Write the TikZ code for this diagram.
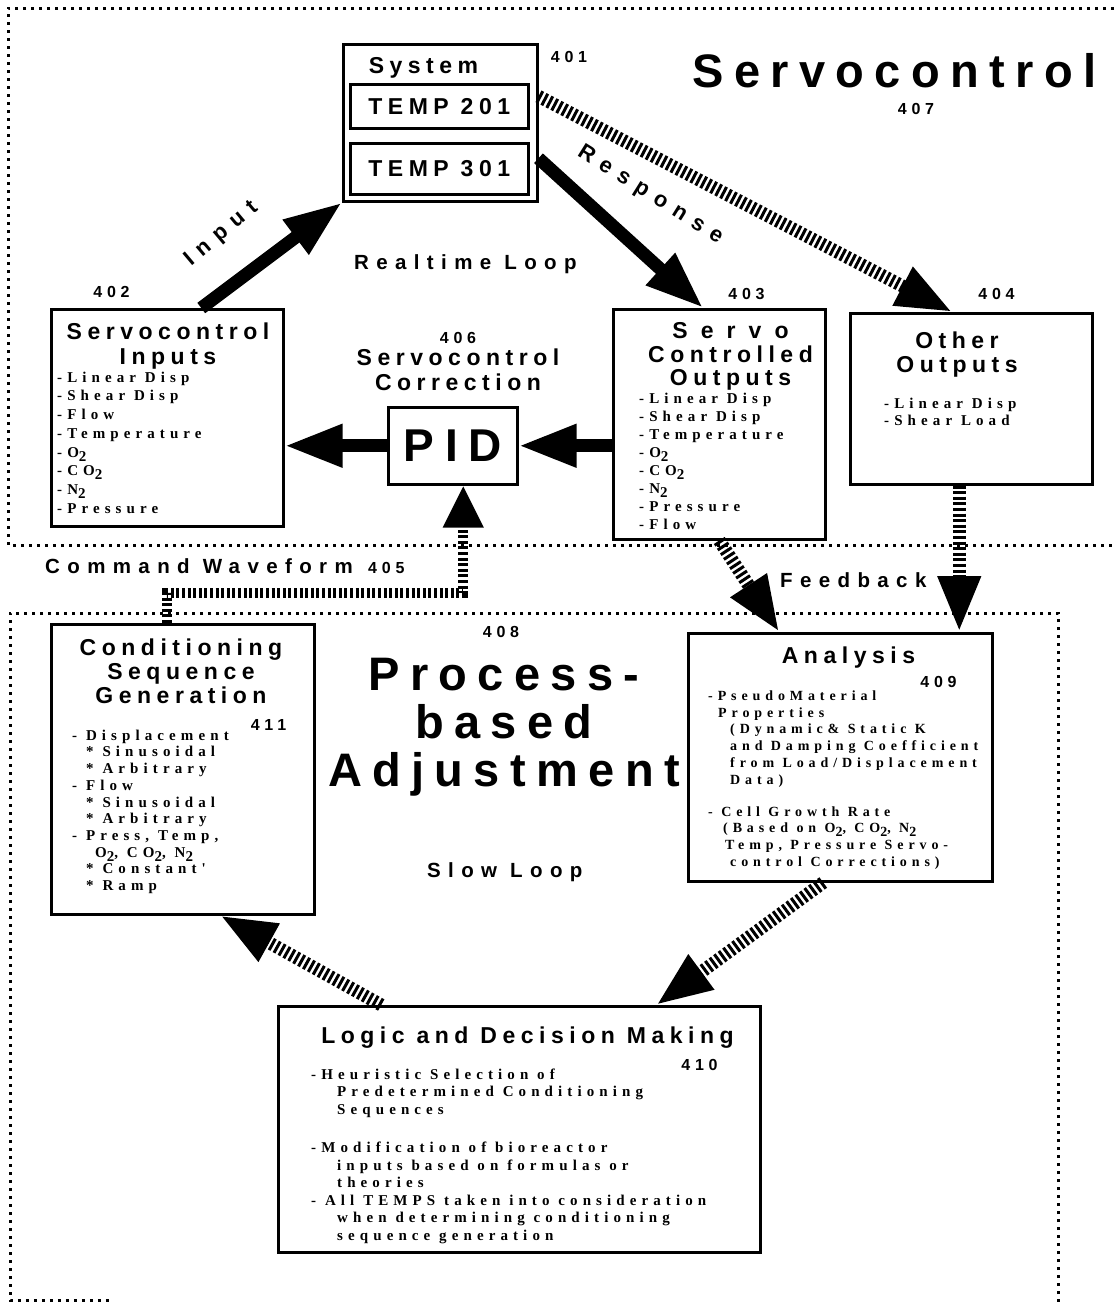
\documentclass[tikz,border=0pt]{standalone}
\usepackage{fontspec}
\usetikzlibrary{arrows.meta}
\newfontfamily\hdfont[LetterSpace=24]{Liberation Sans}
\newfontfamily\txfont[LetterSpace=34]{Liberation Serif}
\newcommand\low[1]{\raisebox{-0.28em}{#1}}

\tikzset{
	box/.style={draw,line width=2.5pt,inner sep=0pt,anchor=north west},
	boxtitle/.style={font=\hdfont\bfseries\fontsize{23}{25}\selectfont,inner sep=0pt,anchor=base},
	lbl/.style={font=\hdfont\bfseries\fontsize{20.5}{24}\selectfont\addfontfeatures{LetterSpace=36},inner sep=0pt},
	big/.style={font=\hdfont\bfseries\fontsize{47}{48}\selectfont\addfontfeatures{LetterSpace=22},inner sep=0pt,anchor=base},
	num/.style={font=\hdfont\bfseries\fontsize{16}{18}\selectfont\addfontfeatures{LetterSpace=30},inner sep=0pt,anchor=base},
	items/.style={font=\txfont\bfseries\fontsize{15}{#1}\selectfont,align=left,inner sep=0pt,anchor=north west},
	dotframe/.style={line width=3pt,dash pattern=on 3pt off 5pt},
	solidarr/.style={line width=13pt,-{Triangle[length=58pt,width=40pt]}},
	hatcharr/.style={line width=13pt,dash pattern=on 3pt off 2.6pt,-{Triangle[length=56pt,width=40pt]}},
}

\begin{document}
\begin{tikzpicture}[x=1pt,y=-1pt]
	\useasboundingbox (0,0) rectangle (1114,1302);
	
	% dotted regions
	\draw[dotframe] (1114,8) -- (8,8) -- (8,545) -- (1114,545);
	\draw[dotframe] (1058,1302) -- (1058,613) -- (10,613) -- (10,1300) -- (110,1300);
	
	% realtime loop
	\node[box,minimum width=194pt,minimum height=157pt] (sys) at (342,43) {};
	\node[boxtitle] (systxt) at (423.5,73) {System};
	\node[box,boxtitle,anchor=north west,minimum width=178pt,minimum height=44pt] (t201) at (349,83) {TEMP 201};
	\node[box,boxtitle,anchor=north west,minimum width=178pt,minimum height=51pt] (t301) at (349,142) {TEMP 301};
	\node[num] (n401) at (569,62) {401};
	\node[big] (servo) at (894.5,87) {Servocontrol};
	\node[num] (n407) at (916,114) {407};
	\node[lbl,anchor=base west] (rtloop) at (354,269) {Realtime Loop};
	
	\node[box,minimum width=232pt,minimum height=217pt] (in402) at (50,308) {};
	\node[num] (n402) at (111.5,297) {402};
	\node[boxtitle] (in402a) at (168,339) {Servocontrol};
	\node[boxtitle] (in402b) at (168,364) {Inputs};
	\node[items=18.7] (in402l) at (57,371) {\rule{0pt}{11pt}-Linear Disp\\-Shear Disp\\-Flow\\-Temperature\\-O\low{2}\\-CO\low{2}\\-N\low{2}\\-Pressure};
	
	\node[box,font=\hdfont\bfseries\fontsize{46}{48}\selectfont\addfontfeatures{LetterSpace=23},minimum width=129pt,minimum height=77pt] (pid) at (387,406) {PID};
	\node[num] (n406) at (458,343) {406};
	\node[boxtitle] (pida) at (458,365) {Servocontrol};
	\node[boxtitle] (pidb) at (458,390) {Correction};
	
	\node[box,minimum width=212pt,minimum height=230pt] (out403) at (612,308) {};
	\node[num] (n403) at (746.5,299) {403};
	\node[boxtitle] (out403a) at (730.5,338) {\addfontfeatures{LetterSpace=57}Servo};
	\node[boxtitle] (out403b) at (730.5,362) {Controlled};
	\node[boxtitle] (out403c) at (730.5,385) {Outputs};
	\node[items=18.1] (out403l) at (639,392) {\rule{0pt}{11pt}-Linear Disp\\-Shear Disp\\-Temperature\\-O\low{2}\\-CO\low{2}\\-N\low{2}\\-Pressure\\-Flow};
	
	\node[box,minimum width=242pt,minimum height=171pt] (oth404) at (849,312) {};
	\node[num] (n404) at (996.5,299) {404};
	\node[boxtitle] (oth404a) at (957,348) {Other};
	\node[boxtitle] (oth404b) at (957,372) {Outputs};
	\node[items=17] (oth404l) at (884,397) {\rule{0pt}{11pt}-Linear Disp\\-Shear Load};
	
	\node[lbl,anchor=base west] (cmdwave) at (45,573) {Command Waveform};
	\node[num,anchor=base west] (n405) at (368,573) {405};
	\node[lbl,anchor=base west] (feedb) at (780,587) {Feedback};
	
	% slow loop
	\node[num] (n408) at (501,637) {408};
	\node[big] (proc1) at (504,690) {Process-};
	\node[big] (proc2) at (504,738) {based};
	\node[big] (proc3) at (504,786) {Adjustment};
	\node[lbl,anchor=base west] (slowloop) at (427,877) {Slow Loop};
	
	\node[box,minimum width=263pt,minimum height=290pt] (cond411) at (50,623) {};
	\node[boxtitle] (cond411a) at (181,655) {Conditioning};
	\node[boxtitle] (cond411b) at (181,679) {Sequence};
	\node[boxtitle] (cond411c) at (181,703) {Generation};
	\node[num] (n411) at (268.5,730) {411};
	\node[items=16.7] (cond411l) at (72,729) {\rule{0pt}{11pt}- Displacement\\\hspace*{14pt}* Sinusoidal\\\hspace*{14pt}* Arbitrary\\- Flow\\\hspace*{14pt}* Sinusoidal\\\hspace*{14pt}* Arbitrary\\- Press, Temp,\\\hspace*{23pt}O\low{2}, CO\low{2}, N\low{2}\\\hspace*{14pt}* Constant'\\\hspace*{14pt}* Ramp};
	
	\node[box,minimum width=304pt,minimum height=248pt] (ana409) at (687,632) {};
	\node[boxtitle] (ana409a) at (848.5,663) {Analysis};
	\node[num] (n409) at (938.5,687) {409};
	\node[items=16.8,font=\txfont\bfseries\fontsize{14}{16.8}\selectfont\addfontfeatures{LetterSpace=35}] (ana409l) at (708,689) {\rule{0pt}{11pt}-PseudoMaterial\\\hspace*{10pt}Properties\\\hspace*{22pt}(Dynamic\& Static K\\\hspace*{22pt}and Damping Coefficient\\\hspace*{22pt}from Load/Displacement\\\hspace*{22pt}Data)\\[15pt]- Cell Growth Rate\\\hspace*{15pt}(Based on O\low{2}, CO\low{2}, N\low{2}\\\hspace*{17pt}Temp, Pressure Servo-\\\hspace*{22pt}control Corrections)};
	
	\node[box,minimum width=482pt,minimum height=246pt] (log410) at (277,1005) {};
	\node[boxtitle] (log410a) at (527.5,1043) {Logic and Decision Making};
	\node[num] (n410) at (699.5,1070) {410};
	\node[items=17.5] (log410l) at (311,1068) {\rule{0pt}{11pt}-Heuristic Selection of\\\hspace*{26pt}Predetermined Conditioning\\\hspace*{26pt}Sequences\\[21pt]-Modification of bioreactor\\\hspace*{26pt}inputs based on formulas or\\\hspace*{26pt}theories\\- All TEMPS taken into consideration\\\hspace*{26pt}when determining conditioning\\\hspace*{26pt}sequence generation};
	
	% connectors
	\draw[solidarr] ([xshift=34pt]in402.north) -- (sys.south west);
	\draw[solidarr] ([yshift=-35.5pt]sys.east) -- ([xshift=-16pt]out403.north);
	\draw[hatcharr] ([yshift=26.5pt]sys.east) -- ([xshift=-19pt]oth404.north);
	\node[lbl,font=\hdfont\bfseries\fontsize{22}{24}\selectfont\addfontfeatures{LetterSpace=40},rotate=40] (inlbl) at (222,234) {Input};
	\node[lbl,font=\hdfont\bfseries\fontsize{22}{24}\selectfont\addfontfeatures{LetterSpace=40},rotate=-32] (resplbl) at (650,195) {Response};
	
	\draw[solidarr] (pid.west) -- (pid.west -| in402.east);
	\draw[solidarr] (pid.east -| out403.west) -- (pid.east);
	\draw[hatcharr,line width=10pt,-{Triangle[length=42pt,width=38pt]}] ([xshift=-15.5pt]cond411.north) -- ++(0,-30) -| ([xshift=10.5pt]pid.south);
	
	\draw[hatcharr] (out403.south) -- ([xshift=-61pt]ana409.north);
	\draw[hatcharr] ([xshift=-12pt]oth404.south) -- ([xshift=-12pt]oth404.south |- ana409.north);
	\draw[hatcharr] ([xshift=-17pt]ana409.south) -- ([xshift=137pt]log410.north);
	\draw[hatcharr] ([xshift=-138pt]log410.north) -- ([xshift=37.5pt]cond411.south);
\end{tikzpicture}
\end{document}
